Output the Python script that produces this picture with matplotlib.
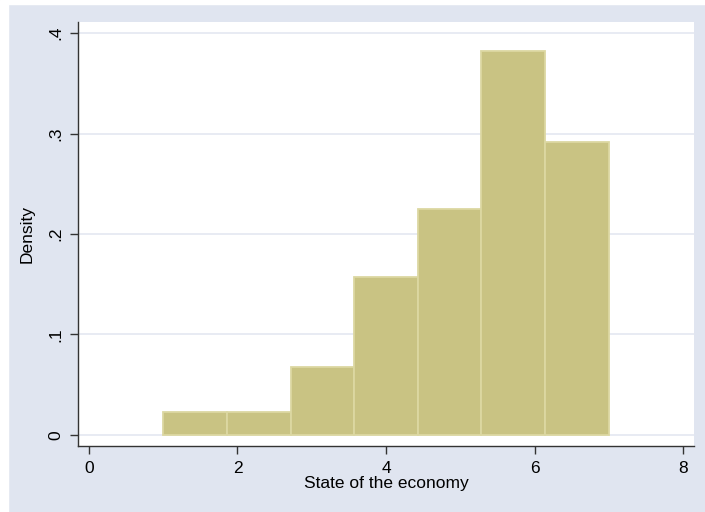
import matplotlib
matplotlib.use("Agg")
import matplotlib.pyplot as plt
import numpy as np

bin_edges = [1.0, 1.857, 2.714, 3.571, 4.429, 5.286, 6.143, 7.0]
densities = [0.023, 0.023, 0.068, 0.157, 0.225, 0.382, 0.292]
x_ticks = [0, 2, 4, 6, 8]
y_ticks = [0, 0.1, 0.2, 0.3, 0.4]
y_labels = ["0", ".1", ".2", ".3", ".4"]

plt.rcParams['font.family'] = ['Liberation Sans', 'DejaVu Sans']

fig = plt.figure(figsize=(7.05, 5.12), dpi=100)
fig.patch.set_facecolor('#e0e5f0')
# white outer strips
fig.add_artist(plt.Rectangle((0, 0), 8/705, 1, transform=fig.transFigure, color='white', zorder=-1))
fig.add_artist(plt.Rectangle((0, 1-4/512), 1, 4/512, transform=fig.transFigure, color='white', zorder=-1))

ax = fig.add_axes([78/705, 66/512, (694-78)/705, (446-22)/512])
ax.set_facecolor('white')

edges = np.array(bin_edges)
widths = np.diff(edges)
ax.bar(edges[:-1], densities, width=widths, align='edge', color='#c9c383',
       edgecolor='#dcd8a2', linewidth=1.3, zorder=3)

ax.set_xlim(-0.148, 8.148)
ax.set_ylim(-0.011, 0.411)
ax.set_xticks(x_ticks)
ax.set_yticks(y_ticks)
ax.set_yticklabels(y_labels, rotation=90, va='center')
ax.yaxis.grid(True, color='#e4e8f1', linewidth=1.2, zorder=0)
ax.set_axisbelow(True)

for s in ['top', 'right']:
    ax.spines[s].set_visible(False)
for s in ['left', 'bottom']:
    ax.spines[s].set_color('#333333')
    ax.spines[s].set_linewidth(1.0)

ax.tick_params(axis='both', direction='out', length=5.5, width=1, color='#333333',
               labelsize=12.5, labelcolor='black')
ax.tick_params(axis='x', pad=5.5)
ax.tick_params(axis='y', pad=5)

ax.set_xlabel('State of the economy', fontsize=12.5, labelpad=0)
ax.set_ylabel('Density', fontsize=12.5, labelpad=10)

fig.savefig('out.png', dpi=100, facecolor=fig.get_facecolor())
